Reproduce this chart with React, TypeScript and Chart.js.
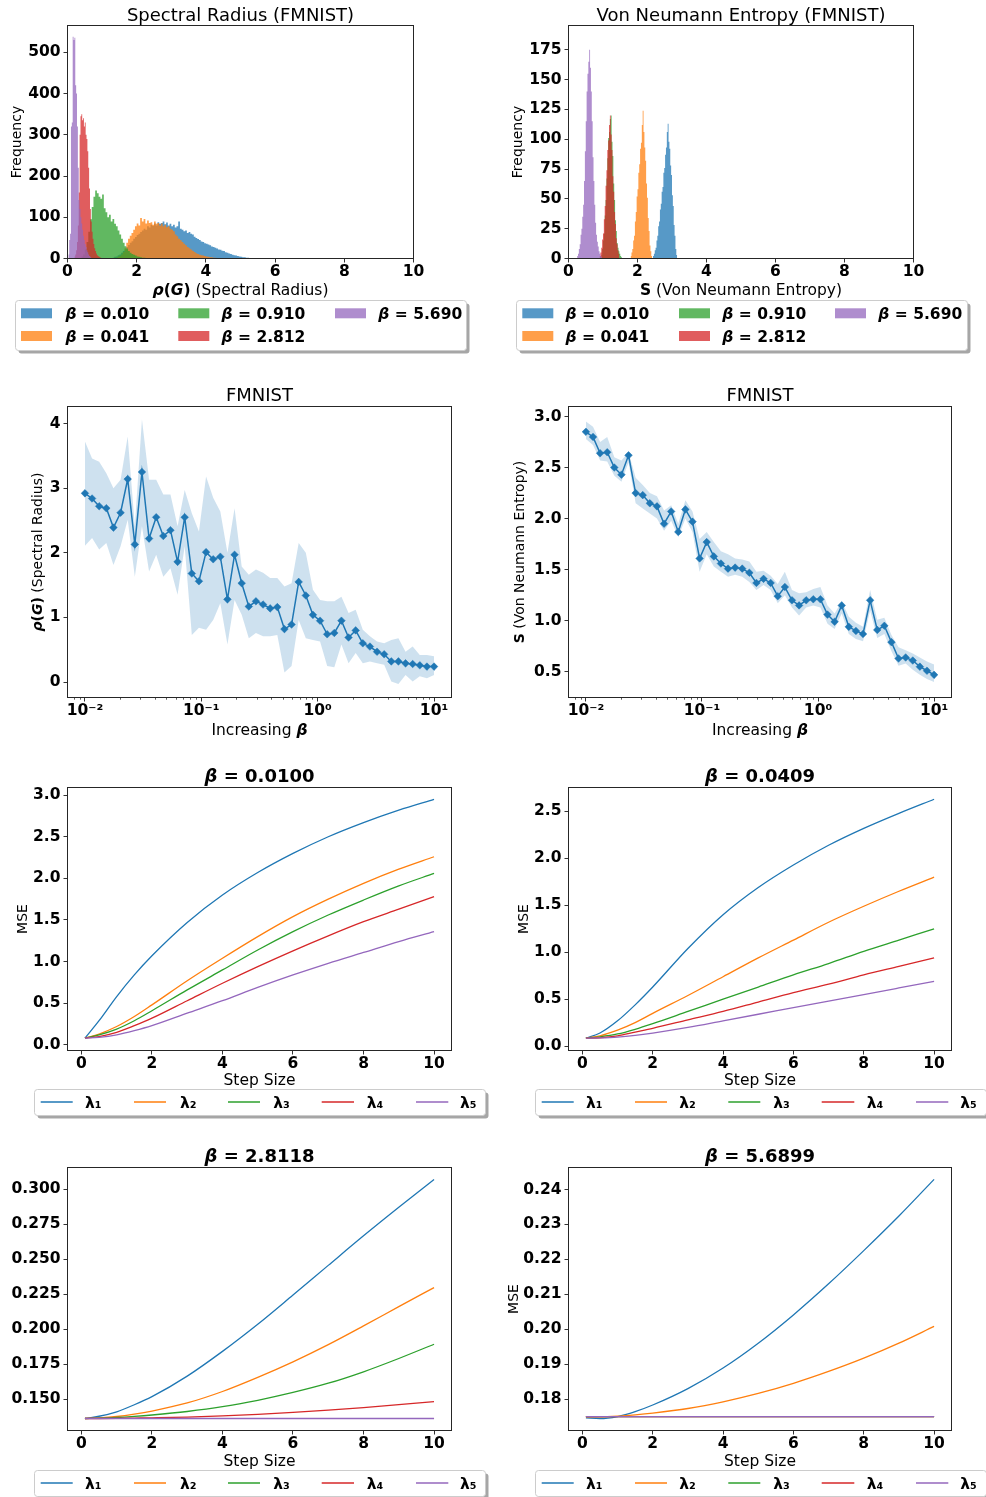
import React, { useEffect, useRef } from 'react';
import { Chart, registerables } from 'chart.js';
Chart.register(...registerables);

// ---------------- DATA ----------------
const COLORS = ['#1f77b4', '#ff7f0e', '#2ca02c', '#d62728', '#9467bd'];
const HIST_COLORS = ['rgba(31,119,180,0.75)', 'rgba(255,127,14,0.75)', 'rgba(44,160,44,0.75)', 'rgba(214,39,40,0.75)', 'rgba(148,103,189,0.75)'];
const BETA_LABELS = ['0.010', '0.041', '0.910', '2.812', '5.690'];

// Spectral radius histograms: bin start, bin width, counts
const SP_START = [1.3, 1.4, 0.4, 0.2, 0.025];
const SP_WIDTH = [0.05, 0.05, 0.05, 0.025, 0.025];
const SP_BLUE = [2,4,5,8,10,14,18,22,28,33, 38,42,48,52,57,60,64,68,72,70, 78,75,82,79,85,80,88,84,86,90, 83,87,80,84,78,82,75,78,90,72, 70,66,68,62,64,60,58,53,50,47, 45,41,40,37,36,34,32,29,28,26, 24,22,21,19,18,15,14,12,11,9, 8,7,6,5,4,3,3,2,2,1, 1,1,1,0];
const SP_ORANGE = [2,4,6,10,16,25,38,48,55,62, 70,78,85,80,98,90,96,85,92,86, 88,82,90,84,86,80,85,78,82,76, 78,72,70,66,58,54,48,44,40,36, 32,28,25,22,19,16,13,11,9,8, 7,6,5,4,3,3,2,2,1,1, 1,0];
const SP_GREEN = [5,10,22,40,65,95,125,150,165,158, 150,145,155,122,112,100,106,90,96,84, 78,68,58,48,38,30,24,18,14,11, 9,7,5,4,3,2,2,1,1,0];
const SP_RED = [5,10,20,40,80,160,300,345,350,335, 340,320,330,300,290,260,220,170,120,90, 65,48,35,25,18,12,8,6,4,3, 2,1,0];
const SP_PURPLE = [10,45,60,320,330,538,530,535,420,400, 320,220,142,120,100,85,70,55,45,35, 28,20,15,10,6,4,2,0];

// Von Neumann entropy histograms
const VN_START = [2.45, 1.8, 0.95, 0.9, 0.25];
const VN_WIDTH = [0.025, 0.025, 0.025, 0.025, 0.025];
const VN_BLUE = [2,4,7,9,15,19,27,31,41,46, 56,60,72,76,87,93,106,113,98,92, 78,70,53,44,28,19,8,3,0];
const VN_ORANGE = [2,5,8,15,19,31,39,52,58,72, 79,92,97,112,124,106,93,82,63,51, 34,23,11,6,2,0];
const VN_GREEN = [3,8,15,21,36,49,67,84,101,106, 117,120,98,86,63,49,32,23,13,9, 6,4,2,1,0];
const VN_RED = [2,5,9,16,21,33,44,61,74,91, 99,112,120,104,91,69,56,39,29,17, 12,7,4,0];
const VN_PURPLE = [2,4,8,12,20,25,35,45,65,90, 115,140,155,165,175,160,140,115,85,65, 45,30,20,14,10,6,4,2,1,0];

// Beta sweep
const BETAS = [0.01,0.011514,0.013257,0.015264,0.017575,0.020236,0.0233,0.026827,0.030888,0.035565,
  0.040949,0.047149,0.054287,0.062506,0.071969,0.082864,0.09541,0.109854,0.126486,0.145635,
  0.167683,0.19307,0.2223,0.255955,0.294705,0.339322,0.390694,0.449843,0.517947,0.596362,
  0.686649,0.790604,0.910298,1.048113,1.206793,1.389495,1.599859,1.84207,2.120951,2.442053,
  2.811769,3.237458,3.727594,4.291934,4.941713,5.689866,6.551286,7.54312,8.685114,10];
const SP_MEAN = [2.92,2.84,2.72,2.69,2.39,2.62,3.14,2.13,3.25,2.22, 2.55,2.26,2.35,1.86,2.55,1.68,1.56,2.01,1.90,1.94, 1.28,1.97,1.53,1.17,1.25,1.20,1.14,1.16,0.82,0.89, 1.55,1.34,1.04,0.95,0.74,0.76,0.95,0.69,0.80,0.60, 0.55,0.47,0.43,0.32,0.32,0.29,0.28,0.26,0.24,0.24];
const SP_UPPER = [3.72,3.46,3.41,3.23,3.00,3.13,3.80,2.41,4.06,3.13, 3.13,2.90,2.90,2.41,2.97,2.61,2.33,3.18,2.85,2.64, 2.00,2.69,1.79,1.66,1.74,1.69,1.61,1.61,1.48,1.53, 2.15,2.00,1.43,1.27,1.25,1.25,1.32,1.07,1.12,0.81, 0.71,0.63,0.60,0.65,0.68,0.47,0.55,0.42,0.42,0.40];
const SP_LOWER = [2.11,2.23,2.05,2.15,1.81,2.10,2.51,1.63,2.41,1.71, 1.97,1.63,1.76,1.35,2.10,0.73,0.84,0.81,0.96,1.22, 0.58,1.27,1.04,0.68,0.76,0.71,0.71,0.73,0.15,0.25, 0.96,0.68,0.65,0.63,0.25,0.23,0.58,0.29,0.45,0.29, 0.32,0.29,0.27,0.01,-0.03,0.11,0.01,0.09,0.06,0.11];
const VN_MEAN = [2.85,2.80,2.64,2.65,2.50,2.43,2.62,2.25,2.23,2.15, 2.12,1.95,2.07,1.87,2.09,1.97,1.61,1.77,1.63,1.56, 1.51,1.52,1.51,1.47,1.37,1.41,1.37,1.24,1.33,1.20, 1.15,1.20,1.21,1.21,1.06,0.99,1.15,0.94,0.90,0.87, 1.20,0.91,0.95,0.79,0.63,0.64,0.61,0.55,0.51,0.47];
const VN_UPPER = [2.95,2.90,2.75,2.80,2.60,2.57,2.65,2.40,2.33,2.25, 2.22,2.08,2.13,1.95,2.18,2.07,1.80,1.87,1.77,1.68, 1.65,1.61,1.60,1.58,1.48,1.49,1.44,1.36,1.48,1.30, 1.27,1.28,1.31,1.33,1.15,1.07,1.19,1.04,0.98,0.94, 1.30,1.01,1.03,0.86,0.74,0.71,0.68,0.64,0.60,0.57];
const VN_LOWER = [2.78,2.72,2.57,2.56,2.42,2.36,2.55,2.15,2.10,2.05, 2.00,1.88,1.98,1.82,2.00,1.87,1.48,1.65,1.53,1.48, 1.43,1.45,1.43,1.38,1.30,1.35,1.30,1.17,1.25,1.13, 1.05,1.13,1.15,1.13,0.97,0.92,1.07,0.87,0.82,0.80, 1.10,0.83,0.87,0.70,0.56,0.58,0.52,0.47,0.43,0.40];

// MSE vs step size
const STEP_X = [0.1, 0.5, 1, 1.5, 2, 3, 4, 5, 6, 7, 8, 9, 10];
const MSE_B0100 = [
  [0.08,0.29,0.58,0.84,1.07,1.47,1.80,2.07,2.30,2.50,2.67,2.82,2.95],
  [0.08,0.13,0.22,0.34,0.48,0.77,1.04,1.30,1.54,1.75,1.94,2.11,2.26],
  [0.08,0.12,0.19,0.29,0.41,0.66,0.90,1.14,1.36,1.56,1.74,1.91,2.06],
  [0.08,0.10,0.15,0.23,0.32,0.53,0.74,0.94,1.13,1.31,1.48,1.63,1.78],
  [0.08,0.09,0.12,0.17,0.23,0.38,0.53,0.69,0.84,0.98,1.11,1.24,1.36],
];
const MSE_B0409 = [
  [0.085,0.14,0.27,0.44,0.63,1.04,1.40,1.69,1.93,2.14,2.32,2.48,2.63],
  [0.085,0.11,0.17,0.25,0.35,0.54,0.74,0.94,1.13,1.32,1.49,1.65,1.80],
  [0.085,0.10,0.13,0.18,0.24,0.37,0.50,0.63,0.76,0.88,1.01,1.13,1.25],
  [0.085,0.09,0.11,0.15,0.19,0.28,0.37,0.47,0.57,0.66,0.76,0.85,0.94],
  [0.085,0.088,0.097,0.115,0.14,0.20,0.27,0.34,0.41,0.48,0.55,0.62,0.69],
];
const MSE_B28118 = [
  [0.1362,0.1378,0.1410,0.1460,0.1518,0.1665,0.1842,0.2036,0.2245,0.2457,0.2668,0.2872,0.3071],
  [0.1362,0.1366,0.1376,0.1393,0.1415,0.1473,0.1555,0.1656,0.1767,0.1890,0.2024,0.2162,0.2298],
  [0.1362,0.1364,0.1369,0.1377,0.1387,0.1412,0.1446,0.1492,0.1548,0.1614,0.1696,0.1791,0.1893],
  [0.1362,0.1362,0.1363,0.1365,0.1367,0.1372,0.1380,0.1391,0.1405,0.1421,0.1440,0.1461,0.1483],
  [0.1362,0.1362,0.1362,0.1362,0.1362,0.1362,0.1362,0.1362,0.1362,0.1362,0.1362,0.1362,0.1362],
];
const MSE_B56899 = [
  [0.1746,0.1744,0.1750,0.1764,0.1783,0.1830,0.1889,0.1960,0.2041,0.2130,0.2225,0.2324,0.2429],
  [0.1749,0.1749,0.1751,0.1755,0.1760,0.1773,0.1792,0.1816,0.1845,0.1879,0.1917,0.1960,0.2008],
  [0.1750,0.1750,0.1750,0.1750,0.1750,0.1750,0.1750,0.1750,0.1750,0.1750,0.1750,0.1750,0.1750],
  [0.1750,0.1750,0.1750,0.1750,0.1750,0.1750,0.1750,0.1750,0.1750,0.1750,0.1750,0.1750,0.1750],
  [0.1750,0.1750,0.1750,0.1750,0.1750,0.1750,0.1750,0.1750,0.1750,0.1750,0.1750,0.1750,0.1750],
];
const LAMBDA_LABELS = ['λ₁', 'λ₂', 'λ₃', 'λ₄', 'λ₅'];

// Tick values
const HIST_X_TICKS = [0, 2, 4, 6, 8, 10];
const SP_Y_TICKS = [0, 100, 200, 300, 400, 500];
const VN_Y_TICKS = [0, 25, 50, 75, 100, 125, 150, 175];
const LOG_TICKS = [0.01, 0.1, 1, 10];
const LOG_LABELS = ['10⁻²', '10⁻¹', '10⁰', '10¹'];
const SPM_Y_TICKS = [0, 1, 2, 3, 4];
const VNM_Y_TICKS = [0.5, 1.0, 1.5, 2.0, 2.5, 3.0];
const STEP_TICKS = [0, 2, 4, 6, 8, 10];
const MSE_A_TICKS = [0, 0.5, 1, 1.5, 2, 2.5, 3];
const MSE_B_TICKS = [0, 0.5, 1, 1.5, 2, 2.5];
const MSE_C_TICKS = [0.15, 0.175, 0.2, 0.225, 0.25, 0.275, 0.3];
const MSE_D_TICKS = [0.18, 0.19, 0.2, 0.21, 0.22, 0.23, 0.24];

// ---------------- STYLE / HELPERS ----------------
const FAM = "'DejaVu Sans'";
const N = (s: number) => `normal ${s}px ${FAM}`;
const B = (s: number) => `bold ${s}px ${FAM}`;
const BI = (s: number) => `italic bold ${s}px ${FAM}`;
type Seg = { t: string; f: string };
const YW = 60;
const XH = 30;
const TICK_FONT = { family: 'DejaVu Sans', weight: 'bold' as const, size: 15.5 };

function drawSegs(ctx: CanvasRenderingContext2D, segs: Seg[], x: number, y: number, align: 'left' | 'center', rot = false) {
  ctx.save();
  ctx.textBaseline = 'alphabetic';
  ctx.textAlign = 'left';
  ctx.fillStyle = '#000';
  let w = 0;
  for (const s of segs) { ctx.font = s.f; w += ctx.measureText(s.t).width; }
  ctx.translate(x, y);
  if (rot) ctx.rotate(-Math.PI / 2);
  let cx = align === 'center' ? -w / 2 : 0;
  for (const s of segs) { ctx.font = s.f; ctx.fillText(s.t, cx, 0); cx += ctx.measureText(s.t).width; }
  ctx.restore();
}

function rrect(ctx: CanvasRenderingContext2D, x: number, y: number, w: number, h: number, r: number) {
  ctx.beginPath();
  ctx.moveTo(x + r, y);
  ctx.arcTo(x + w, y, x + w, y + h, r);
  ctx.arcTo(x + w, y + h, x, y + h, r);
  ctx.arcTo(x, y + h, x, y, r);
  ctx.arcTo(x, y, x + w, y, r);
  ctx.closePath();
}

type LegendItem = { x1: number; x2: number; cy: number; tx: number; label: Seg[]; color: string };
type Legend = { box: { x: number; y: number; w: number; h: number }; kind: 'patch' | 'line'; items: LegendItem[] };

function drawLegend(ctx: CanvasRenderingContext2D, L: Legend, ox: number, oy: number) {
  const bx = L.box.x - ox, by = L.box.y - oy;
  ctx.save();
  ctx.fillStyle = 'rgba(0,0,0,0.35)';
  rrect(ctx, bx + 3, by + 3, L.box.w, L.box.h, 3);
  ctx.fill();
  ctx.fillStyle = '#fff';
  rrect(ctx, bx, by, L.box.w, L.box.h, 3);
  ctx.fill();
  ctx.strokeStyle = '#cccccc';
  ctx.lineWidth = 1;
  ctx.stroke();
  for (const it of L.items) {
    const cy = it.cy - oy;
    if (L.kind === 'patch') {
      ctx.fillStyle = it.color;
      ctx.fillRect(it.x1 - ox, cy - 5, it.x2 - it.x1, 10);
    } else {
      ctx.strokeStyle = it.color;
      ctx.lineWidth = 1.5;
      ctx.beginPath();
      ctx.moveTo(it.x1 - ox, cy);
      ctx.lineTo(it.x2 - ox, cy);
      ctx.stroke();
    }
    drawSegs(ctx, it.label, it.tx - ox, cy + 5.5, 'left');
  }
  ctx.restore();
}

function betaLegend(boxX: number, boxY: number, sw: number[], tx: number[], rows: number[]): Legend {
  const items: LegendItem[] = BETA_LABELS.map((b, i) => {
    const col = Math.floor(i / 2), row = i % 2;
    return { x1: sw[col], x2: sw[col] + 31, cy: rows[row], tx: tx[col], label: [{ t: 'β', f: BI(15.5) }, { t: ' = ' + b, f: B(15.5) }], color: HIST_COLORS[i] };
  });
  return { box: { x: boxX, y: boxY, w: 451, h: 50 }, kind: 'patch', items };
}

function lambdaLegend(boxX: number, boxY: number, lines: number[][], tx: number[]): Legend {
  const items: LegendItem[] = LAMBDA_LABELS.map((l, i) => ({
    x1: lines[i][0], x2: lines[i][1], cy: boxY + 12.5, tx: tx[i], label: [{ t: l, f: B(15.5) }], color: COLORS[i],
  }));
  return { box: { x: boxX, y: boxY, w: 451, h: 26 }, kind: 'line', items };
}

const LEG_L_LINES = [[40.7, 72.7], [134, 166], [228, 260], [321.7, 354], [416, 448.3]];
const LEG_L_TX = [85, 180, 273.3, 366.7, 460];
const LEG_R_LINES = [[541.7, 573.7], [635, 667], [728.3, 760.3], [821.7, 854.3], [916, 948.3]];
const LEG_R_TX = [586, 679.3, 773.3, 866.7, 960.3];

type Panel = {
  cell: { x: number; y: number; w: number; h: number };
  area: { l: number; t: number; r: number; b: number };
  title: Seg[]; titleY: number;
  xLabel: Seg[]; xLabelY: number;
  yLabel?: Seg[]; yLabelX?: number;
  legend?: Legend;
  logMinor?: boolean;
  xScale: any; yScale: any;
  datasets: any[];
};

function linAxis(min: number, max: number, ticks: number[], dec: number, isX: boolean) {
  return {
    type: 'linear', min, max,
    afterBuildTicks: (s: any) => { s.ticks = ticks.map((v) => ({ value: v })); },
    afterFit: (s: any) => { if (isX) s.height = XH; else s.width = YW; },
    ticks: { font: TICK_FONT, color: '#000', padding: isX ? 0 : 3, autoSkip: false, maxRotation: 0, minRotation: 0, callback: (v: any) => Number(v).toFixed(dec) },
    grid: { drawOnChartArea: false, tickLength: 4, color: '#333', lineWidth: 1 },
    border: { display: false },
  };
}

function logAxis() {
  return {
    type: 'logarithmic', min: 0.0070795, max: 14.1254,
    afterBuildTicks: (s: any) => { s.ticks = LOG_TICKS.map((v) => ({ value: v })); },
    afterFit: (s: any) => { s.height = XH; },
    ticks: { font: TICK_FONT, color: '#000', padding: 0, autoSkip: false, maxRotation: 0, minRotation: 0, callback: (v: any) => { const i = LOG_TICKS.indexOf(Number(v)); return i >= 0 ? LOG_LABELS[i] : ''; } },
    grid: { drawOnChartArea: false, tickLength: 4, color: '#333', lineWidth: 1 },
    border: { display: false },
  };
}

function histSets(starts: number[], widths: number[], counts: number[][]) {
  return counts.map((c, i) => ({
    data: c.map((v, k) => ({ x: starts[i] + k * widths[i], y: v })),
    stepped: true,
    fill: 'origin',
    backgroundColor: HIST_COLORS[i],
    borderColor: 'transparent',
    borderWidth: 0,
    pointRadius: 0,
    order: 5 - i,
  }));
}

function bandSets(mean: number[], up: number[], lo: number[]) {
  return [
    { data: BETAS.map((b, i) => ({ x: b, y: up[i] })), fill: '+1', backgroundColor: 'rgba(31,119,180,0.22)', borderColor: 'transparent', borderWidth: 0, pointRadius: 0, order: 2 },
    { data: BETAS.map((b, i) => ({ x: b, y: lo[i] })), fill: false, borderColor: 'transparent', borderWidth: 0, pointRadius: 0, order: 3 },
    { data: BETAS.map((b, i) => ({ x: b, y: mean[i] })), fill: false, borderColor: COLORS[0], borderWidth: 1.5, pointStyle: 'rectRot', pointRadius: 3.8, pointBackgroundColor: COLORS[0], pointBorderColor: COLORS[0], pointBorderWidth: 0.5, order: 0 },
  ];
}

function mseSets(series: number[][]) {
  return series.map((s, i) => ({
    data: STEP_X.map((x, k) => ({ x, y: s[k] })),
    borderColor: COLORS[i], borderWidth: 1.3, pointRadius: 0, fill: false,
    cubicInterpolationMode: 'monotone', order: 5 - i,
  }));
}

const STEP_LABEL: Seg[] = [{ t: 'Step Size', f: N(15.5) }];
const MSE_LABEL: Seg[] = [{ t: 'MSE', f: N(14) }];

const PANELS: Panel[] = [
  {
    cell: { x: 0, y: 0, w: 493, h: 365 }, area: { l: 67.5, t: 25.5, r: 413.5, b: 258.5 },
    title: [{ t: 'Spectral Radius (FMNIST)', f: N(18) }], titleY: 20.7,
    xLabel: [{ t: 'ρ', f: BI(15.5) }, { t: '(', f: B(15.5) }, { t: 'G', f: BI(15.5) }, { t: ')', f: B(15.5) }, { t: ' (Spectral Radius)', f: N(15.5) }], xLabelY: 294.5,
    yLabel: [{ t: 'Frequency', f: N(14) }], yLabelX: 21,
    legend: betaLegend(15.5, 300.5, [21, 178.3, 335], [65.5, 221.5, 378.3], [313.3, 336]),
    xScale: linAxis(0, 10, HIST_X_TICKS, 0, true), yScale: linAxis(0, 565, SP_Y_TICKS, 0, false),
    datasets: histSets(SP_START, SP_WIDTH, [SP_BLUE, SP_ORANGE, SP_GREEN, SP_RED, SP_PURPLE]),
  },
  {
    cell: { x: 493, y: 0, w: 493, h: 365 }, area: { l: 568.5, t: 25.5, r: 913.5, b: 258.5 },
    title: [{ t: 'Von Neumann Entropy (FMNIST)', f: N(18) }], titleY: 20.7,
    xLabel: [{ t: 'S', f: B(15.5) }, { t: ' (Von Neumann Entropy)', f: N(15.5) }], xLabelY: 294.5,
    yLabel: [{ t: 'Frequency', f: N(14) }], yLabelX: 521.5,
    legend: betaLegend(516.5, 300.5, [522.3, 679, 835], [565.5, 722.3, 878.3], [313.3, 336]),
    xScale: linAxis(0, 10, HIST_X_TICKS, 0, true), yScale: linAxis(0, 195.4, VN_Y_TICKS, 0, false),
    datasets: histSets(VN_START, VN_WIDTH, [VN_BLUE, VN_ORANGE, VN_GREEN, VN_RED, VN_PURPLE]),
  },
  {
    cell: { x: 0, y: 365, w: 493, h: 380 }, area: { l: 67.5, t: 406.5, r: 451.5, b: 697.5 },
    title: [{ t: 'FMNIST', f: N(18) }], titleY: 401,
    xLabel: [{ t: 'Increasing ', f: N(15.5) }, { t: 'β', f: BI(15.5) }], xLabelY: 735.3,
    yLabel: [{ t: 'ρ', f: BI(14) }, { t: '(', f: B(14) }, { t: 'G', f: BI(14) }, { t: ')', f: B(14) }, { t: ' (Spectral Radius)', f: N(14) }], yLabelX: 42,
    logMinor: true,
    xScale: logAxis(), yScale: linAxis(-0.238, 4.263, SPM_Y_TICKS, 0, false),
    datasets: bandSets(SP_MEAN, SP_UPPER, SP_LOWER),
  },
  {
    cell: { x: 493, y: 365, w: 493, h: 380 }, area: { l: 568.5, t: 406.5, r: 951.5, b: 697.5 },
    title: [{ t: 'FMNIST', f: N(18) }], titleY: 401,
    xLabel: [{ t: 'Increasing ', f: N(15.5) }, { t: 'β', f: BI(15.5) }], xLabelY: 735.3,
    yLabel: [{ t: 'S', f: B(14) }, { t: ' (Von Neumann Entropy)', f: N(14) }], yLabelX: 524,
    logMinor: true,
    xScale: logAxis(), yScale: linAxis(0.248, 3.098, VNM_Y_TICKS, 1, false),
    datasets: bandSets(VN_MEAN, VN_UPPER, VN_LOWER),
  },
  {
    cell: { x: 0, y: 745, w: 493, h: 380 }, area: { l: 67.5, t: 787.5, r: 451.5, b: 1050.5 },
    title: [{ t: 'β', f: BI(18) }, { t: ' = 0.0100', f: B(18) }], titleY: 781.7,
    xLabel: STEP_LABEL, xLabelY: 1085,
    yLabel: MSE_LABEL, yLabelX: 27,
    legend: lambdaLegend(34.5, 1089.5, LEG_L_LINES, LEG_L_TX),
    xScale: linAxis(-0.395, 10.495, STEP_TICKS, 0, true), yScale: linAxis(-0.068, 3.092, MSE_A_TICKS, 1, false),
    datasets: mseSets(MSE_B0100),
  },
  {
    cell: { x: 493, y: 745, w: 493, h: 380 }, area: { l: 568.5, t: 787.5, r: 951.5, b: 1050.5 },
    title: [{ t: 'β', f: BI(18) }, { t: ' = 0.0409', f: B(18) }], titleY: 781.7,
    xLabel: STEP_LABEL, xLabelY: 1085,
    yLabel: MSE_LABEL, yLabelX: 528,
    legend: lambdaLegend(535.5, 1089.5, LEG_R_LINES, LEG_R_TX),
    xScale: linAxis(-0.395, 10.495, STEP_TICKS, 0, true), yScale: linAxis(-0.046, 2.755, MSE_B_TICKS, 1, false),
    datasets: mseSets(MSE_B0409),
  },
  {
    cell: { x: 0, y: 1125, w: 493, h: 372 }, area: { l: 67.5, t: 1167.5, r: 451.5, b: 1430.5 },
    title: [{ t: 'β', f: BI(18) }, { t: ' = 2.8118', f: B(18) }], titleY: 1162,
    xLabel: STEP_LABEL, xLabelY: 1466,
    legend: lambdaLegend(34.5, 1470.5, LEG_L_LINES, LEG_L_TX),
    xScale: linAxis(-0.395, 10.495, STEP_TICKS, 0, true), yScale: linAxis(0.1276, 0.3157, MSE_C_TICKS, 3, false),
    datasets: mseSets(MSE_B28118),
  },
  {
    cell: { x: 493, y: 1125, w: 493, h: 372 }, area: { l: 568.5, t: 1167.5, r: 951.5, b: 1430.5 },
    title: [{ t: 'β', f: BI(18) }, { t: ' = 5.6899', f: B(18) }], titleY: 1162,
    xLabel: STEP_LABEL, xLabelY: 1466,
    yLabel: MSE_LABEL, yLabelX: 518,
    legend: lambdaLegend(535.5, 1470.5, LEG_R_LINES, LEG_R_TX),
    xScale: linAxis(-0.395, 10.495, STEP_TICKS, 0, true), yScale: linAxis(0.171, 0.2463, MSE_D_TICKS, 2, false),
    datasets: mseSets(MSE_B56899),
  },
];

function decoPlugin(p: Panel) {
  return {
    id: 'deco',
    afterDraw(chart: any) {
      const ctx: CanvasRenderingContext2D = chart.ctx;
      const ox = p.cell.x, oy = p.cell.y;
      const a = chart.chartArea;
      ctx.save();
      if (p.logMinor) {
        const sx = chart.scales.x;
        ctx.strokeStyle = '#333';
        ctx.lineWidth = 0.8;
        for (let e = -3; e <= 1; e++) {
          for (let m = 2; m <= 9; m++) {
            const v = m * Math.pow(10, e);
            if (v < sx.min || v > sx.max) continue;
            const px = Math.round(sx.getPixelForValue(v)) + 0.5;
            ctx.beginPath();
            ctx.moveTo(px, a.bottom);
            ctx.lineTo(px, a.bottom + 2.2);
            ctx.stroke();
          }
        }
      }
      ctx.strokeStyle = '#262626';
      ctx.lineWidth = 1;
      ctx.strokeRect(a.left, a.top, a.right - a.left, a.bottom - a.top);
      drawSegs(ctx, p.title, (a.left + a.right) / 2, p.titleY - oy, 'center');
      drawSegs(ctx, p.xLabel, (a.left + a.right) / 2, p.xLabelY - oy, 'center');
      if (p.yLabel && p.yLabelX !== undefined) drawSegs(ctx, p.yLabel, p.yLabelX - ox, (a.top + a.bottom) / 2, 'center', true);
      if (p.legend) drawLegend(ctx, p.legend, ox, oy);
      ctx.restore();
    },
  };
}

function PanelChart({ panel }: { panel: Panel }) {
  const ref = useRef<HTMLCanvasElement>(null);
  useEffect(() => {
    const p = panel;
    const padding = {
      left: p.area.l - p.cell.x - YW,
      top: p.area.t - p.cell.y,
      right: p.cell.x + p.cell.w - p.area.r,
      bottom: p.cell.y + p.cell.h - p.area.b - XH,
    };
    const chart = new Chart(ref.current as HTMLCanvasElement, {
      type: 'line',
      data: { datasets: p.datasets },
      options: {
        animation: false,
        responsive: false,
        maintainAspectRatio: false,
        devicePixelRatio: 1,
        events: [],
        layout: { padding },
        plugins: { legend: { display: false }, tooltip: { enabled: false }, title: { display: false } },
        scales: { x: p.xScale, y: p.yScale },
      } as any,
      plugins: [decoPlugin(p)],
    });
    return () => chart.destroy();
  }, [panel]);
  return (
    <canvas
      ref={ref}
      width={panel.cell.w}
      height={panel.cell.h}
      style={{ position: 'absolute', left: panel.cell.x, top: panel.cell.y, width: panel.cell.w, height: panel.cell.h }}
    />
  );
}

export default function App() {
  return (
    <div style={{ position: 'absolute', left: 0, top: 0, width: 986, height: 1497, background: '#fff', overflow: 'hidden' }}>
      {PANELS.map((p, i) => (
        <PanelChart key={i} panel={p} />
      ))}
    </div>
  );
}
